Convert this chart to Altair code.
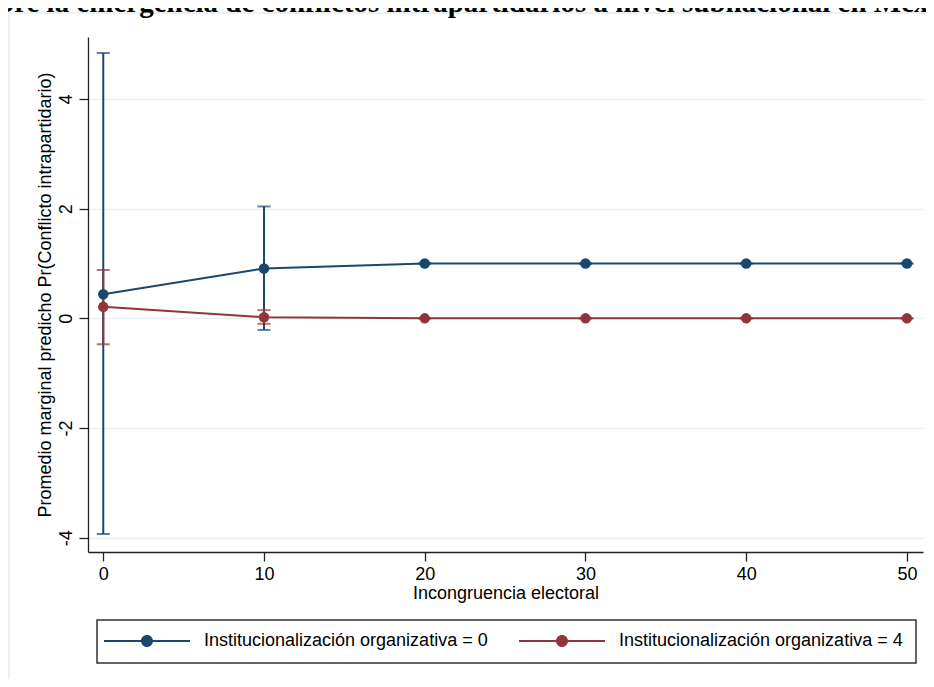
import altair as alt
import pandas as pd

# ---- data ----
x_vals = [0, 10, 20, 30, 40, 50]
series_names = ["Institucionalización organizativa = 0", "Institucionalización organizativa = 4"]
blue_mean = [0.44, 0.91, 1.0, 1.0, 1.0, 1.0]
blue_lo = [-3.93, -0.21, 1.0, 1.0, 1.0, 1.0]
blue_hi = [4.84, 2.04, 1.0, 1.0, 1.0, 1.0]
red_mean = [0.21, 0.02, 0.0, 0.0, 0.0, 0.0]
red_lo = [-0.47, -0.10, 0.0, 0.0, 0.0, 0.0]
red_hi = [0.88, 0.15, 0.0, 0.0, 0.0, 0.0]
colors = ["#1a476f", "#90353b"]
x_ticks = [0, 10, 20, 30, 40, 50]
y_ticks = [-4, -2, 0, 2, 4]
title_text = "bre la emergencia de conflictos intrapartidarios a nivel subnacional en Mex"
x_title = "Incongruencia electoral"
y_title = "Promedio marginal predicho Pr(Conflicto intrapartidario)"

rows = []
for name, m, lo, hi in [(series_names[0], blue_mean, blue_lo, blue_hi),
                        (series_names[1], red_mean, red_lo, red_hi)]:
    for xv, mv, l, h in zip(x_vals, m, lo, hi):
        rows.append({"x": xv, "m": mv, "lo": l, "hi": h, "s": name})
df = pd.DataFrame(rows)
one = pd.DataFrame({"t": [title_text]})

FONT = "Liberation Sans"
FS = 18
W, H = 835, 515

xs = alt.Scale(domain=[-0.95, 51.0], nice=False, zero=False)
ys = alt.Scale(domain=[-4.26, 5.13], nice=False, zero=False)
cs = alt.Scale(domain=series_names, range=colors)

x_axis = alt.Axis(values=x_ticks, format="d", title=x_title, grid=False,
                  tickSize=9, labelPadding=4, titlePadding=1)
y_axis = alt.Axis(values=y_ticks, labelExpr="toString(datum.value)", title=y_title, grid=True,
                  tickSize=9, labelAngle=270, labelAlign="center",
                  labelBaseline="alphabetic", labelPadding=8, titlePadding=3)

base = alt.Chart(df)

rules = base.mark_rule(strokeWidth=2).encode(
    x=alt.X("x:Q", scale=xs, axis=x_axis),
    y=alt.Y("lo:Q", scale=ys, axis=y_axis),
    y2="hi:Q",
    color=alt.Color("s:N", scale=cs, legend=None),
)
caps_lo = base.mark_tick(orient="horizontal", size=13, thickness=2).encode(
    x=alt.X("x:Q", scale=xs), y=alt.Y("lo:Q", scale=ys),
    color=alt.Color("s:N", scale=cs, legend=None),
)
caps_hi = base.mark_tick(orient="horizontal", size=13, thickness=2).encode(
    x=alt.X("x:Q", scale=xs), y=alt.Y("hi:Q", scale=ys),
    color=alt.Color("s:N", scale=cs, legend=None),
)
lines = base.mark_line(strokeWidth=2).encode(
    x=alt.X("x:Q", scale=xs), y=alt.Y("m:Q", scale=ys),
    color=alt.Color("s:N", scale=cs, legend=None),
)
sym_path = ("M-1,-0.024 L1,-0.024 L1,0.024 L-1,0.024 Z "
            "M0.14,0 A0.14,0.14 0 1,1 -0.14,0 A0.14,0.14 0 1,1 0.14,0 Z")
points = base.mark_point(filled=True, opacity=1, size=110, shape="circle").encode(
    x=alt.X("x:Q", scale=xs), y=alt.Y("m:Q", scale=ys),
    color=alt.Color("s:N", scale=cs, legend=alt.Legend(
        title=None, orient="none", direction="horizontal",
        legendX=16, legendY=561, symbolType=sym_path, symbolSize=7396,
        symbolStrokeWidth=0, labelFontSize=FS, labelFont=FONT, labelColor="#000000",
        labelLimit=500, labelOffset=14, columnPadding=31, padding=0)),
)

legend_box = alt.Chart(one).mark_rect(filled=False, stroke="#333333", strokeWidth=1.5).encode(
    x=alt.value(9), x2=alt.value(828), y=alt.value(583), y2=alt.value(626))
outer_box = alt.Chart(one).mark_rect(filled=False, stroke="#e3ecef", strokeWidth=1.5).encode(
    x=alt.value(-79), x2=alt.value(900), y=alt.value(-24), y2=alt.value(700))
title = alt.Chart(one).mark_text(font="Liberation Serif", fontWeight="bold", fontSize=29,
                                 align="left", baseline="alphabetic", color="#000000").encode(
    x=alt.value(-90), y=alt.value(-25), text="t:N")

chart = alt.layer(outer_box, title, rules, caps_lo, caps_hi, lines, points, legend_box).properties(
    width=W, height=H,
    background="white",
    autosize=alt.AutoSizeParams(type="none"),
    padding={"left": 80, "top": 29, "right": 3, "bottom": 127},
).resolve_legend(color="independent").configure_view(strokeWidth=0).configure_axis(
    labelFont=FONT, titleFont=FONT, labelFontSize=FS, titleFontSize=FS,
    labelColor="#000000", titleColor="#000000", titleFontWeight="normal",
    domainColor="#222222", tickColor="#222222", domainWidth=1.3, tickWidth=1.3,
    gridColor="#e8f0f2", gridWidth=1.5,
)

chart.save("out.html", embed_options={"renderer": "svg", "actions": False})
